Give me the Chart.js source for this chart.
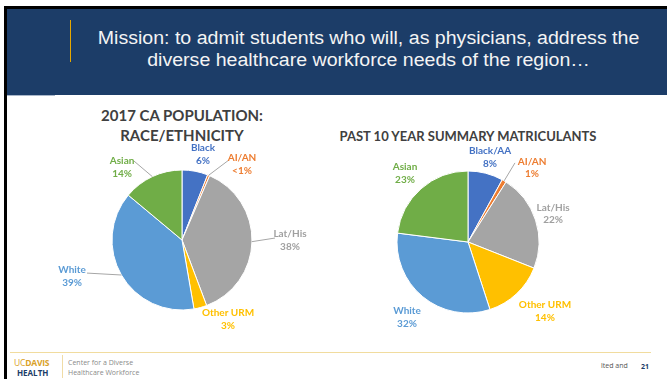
<!DOCTYPE html>
<html><head><meta charset="utf-8">
<script src="https://cdn.jsdelivr.net/npm/chart.js@4.4.0/dist/chart.umd.min.js"></script>
<style>
html,body{margin:0;padding:0;background:#fff;}
#page{position:relative;width:667px;height:379px;overflow:hidden;background:#fff;font-family:'Liberation Sans',Arial,sans-serif;}
.abs{position:absolute;}
.ttl{font-family:Lato,'Open Sans',sans-serif;font-weight:bold;color:#404040;text-align:center;white-space:nowrap;}
</style></head><body>
<div id="page">
  <div class="abs" style="left:4px;top:6px;width:663px;height:373px;background:#000"></div>
  <div class="abs" style="left:7px;top:9px;width:660px;height:370px;background:#fff"></div>
  <div class="abs" style="left:7px;top:9px;width:660px;height:86px;background:#1c3d68"></div>
  <div class="abs" style="left:7px;top:95px;width:48px;height:1px;background:#a9b7ca"></div>
  <div class="abs" style="left:70px;top:20px;width:1px;height:42px;background:#e6a800"></div>
  <div class="abs" style="left:70px;top:28px;width:597px;text-align:center;color:#f4f4f4;font-size:18px;line-height:21.5px;white-space:nowrap;transform:scaleX(1.087);transform-origin:298px 0;">Mission: to admit students who will, as physicians, address the<br>diverse healthcare workforce needs of the region…</div>

  <div class="abs ttl" style="left:32px;top:105px;width:300px;font-size:15px;line-height:20px;">2017 CA POPULATION:<br>RACE/ETHNICITY</div>
  <div class="abs ttl" style="left:318px;top:126px;width:300px;font-size:13px;line-height:20px;">PAST 10 YEAR SUMMARY MATRICULANTS</div>

  <canvas id="c1" class="abs" style="left:40px;top:100px;width:300px;height:235px" width="300" height="235"></canvas>
  <canvas id="c2" class="abs" style="left:340px;top:140px;width:327px;height:195px" width="327" height="195"></canvas>

  <div class="abs" style="left:10px;top:352px;width:641px;height:1px;background:#f1dc9e"></div>
  <div class="abs" style="left:14px;top:358px;font-family:'Open Sans',sans-serif;font-size:8.5px;line-height:10px;color:#d9a127;white-space:nowrap;letter-spacing:-0.2px"><span style="font-weight:normal">UC</span><span style="font-weight:bold">DAVIS</span></div>
  <div class="abs" style="left:17px;top:368px;font-family:'Open Sans',sans-serif;font-size:8px;line-height:10px;color:#1c3d68;font-weight:bold;white-space:nowrap;">HEALTH</div>
  <div class="abs" style="left:62px;top:355px;width:1px;height:23px;background:#f0dca6"></div>
  <div class="abs" style="left:68px;top:358px;font-family:'Open Sans',sans-serif;font-size:7px;line-height:9.5px;color:#8a8a8a;white-space:nowrap;">Center for a Diverse<br>Healthcare Workforce</div>
  <div class="abs" style="left:601px;top:361px;font-family:'Open Sans',sans-serif;font-size:7px;line-height:10px;color:#555;white-space:nowrap;">lted and</div>
  <div class="abs" style="left:641px;top:362px;font-family:'Open Sans',sans-serif;font-size:7px;line-height:10px;color:#1c3d68;font-weight:bold;white-space:nowrap;">21</div>
</div>
<script>
// ---- data ----
const caCategories = ["Black", "AI/AN", "Lat/His", "Other URM", "White", "Asian"];
const caValues = [6, 0.5, 38, 3, 39, 14];
const caPctLabels = ["6%", "<1%", "38%", "3%", "39%", "14%"];

const matCategories = ["Black/AA", "AI/AN", "Lat/His", "Other URM", "White", "Asian"];
const matValues = [8, 1, 22, 14, 32, 23];
const matPctLabels = ["8%", "1%", "22%", "14%", "32%", "23%"];

// ---- styles ----
const sliceColors = ["#4472c4", "#ed7d31", "#a5a5a5", "#ffc000", "#5b9bd5", "#70ad47"];
const textColors  = ["#4472c4", "#ed7d31", "#a0a0a0", "#ffc000", "#5b9bd5", "#70ad47"];

const labelPlugin = {
  id: 'sliceLabels',
  afterDatasetsDraw(chart, args, opts) {
    const ctx = chart.ctx;
    const meta = chart.getDatasetMeta(0);
    const names = chart.data.labels;
    meta.data.forEach((arc, i) => {
      const p = arc.getProps(['x','y','startAngle','endAngle','outerRadius'], true);
      const rad = d => (d - 90) * Math.PI / 180;
      ctx.save();
      const ld = opts.leaders[i];
      if (ld) {
        const mid = (p.startAngle + p.endAngle) / 2;
        ctx.strokeStyle = '#a6a6a6';
        ctx.lineWidth = 1;
        ctx.beginPath();
        ctx.moveTo(p.x + Math.cos(mid) * p.outerRadius, p.y + Math.sin(mid) * p.outerRadius);
        ctx.lineTo(p.x + Math.cos(rad(ld[0])) * ld[1], p.y + Math.sin(rad(ld[0])) * ld[1]);
        ctx.stroke();
      }
      const s = opts.spots[i];
      const lx = p.x + Math.cos(rad(s[0])) * s[1];
      const ly = p.y + Math.sin(rad(s[0])) * s[1];
      ctx.fillStyle = textColors[i];
      ctx.font = 'bold ' + opts.size + 'px Lato, "Open Sans", sans-serif';
      ctx.textAlign = 'center';
      ctx.textBaseline = 'middle';
      ctx.fillText(names[i], lx, ly - opts.gap / 2);
      ctx.fillText(opts.pct[i], lx, ly + opts.gap / 2);
      ctx.restore();
    });
  }
};

function makePie(id, cats, vals, pad, radius, labelOpts) {
  return new Chart(document.getElementById(id), {
    type: 'pie',
    data: { labels: cats, datasets: [{ data: vals, backgroundColor: sliceColors, borderColor: '#ffffff', borderWidth: 1 }] },
    options: {
      responsive: false, animation: false,
      radius: radius,
      layout: { padding: pad },
      plugins: { legend: { display: false }, tooltip: { enabled: false }, sliceLabels: labelOpts }
    },
    plugins: [labelPlugin]
  });
}

makePie('c1', caCategories, caValues, { left: 72, right: 88, top: 70, bottom: 25 }, 70, {
  pct: caPctLabels, size: 10, gap: 13,
  spots: [[13.8, 88], [38.5, 96.4], [90, 108], [150, 92], [251.9, 115.7], [320.4, 94]],
  leaders: [null, [30.4, 92.8], [88.8, 93], null, [250.8, 100.6], [328.7, 92.4]]
});

makePie('c2', matCategories, matValues, { left: 57, right: 128, top: 31, bottom: 22 }, 71, {
  pct: matPctLabels, size: 10, gap: 12.5,
  spots: [[14.6, 87.3], [40.7, 98.2], [71.5, 89.7], [131.9, 103.4], [219.1, 96.7], [317.4, 93.1]],
  leaders: [null, [30.7, 92], null, null, null, null]
});
</script>
</body></html>
